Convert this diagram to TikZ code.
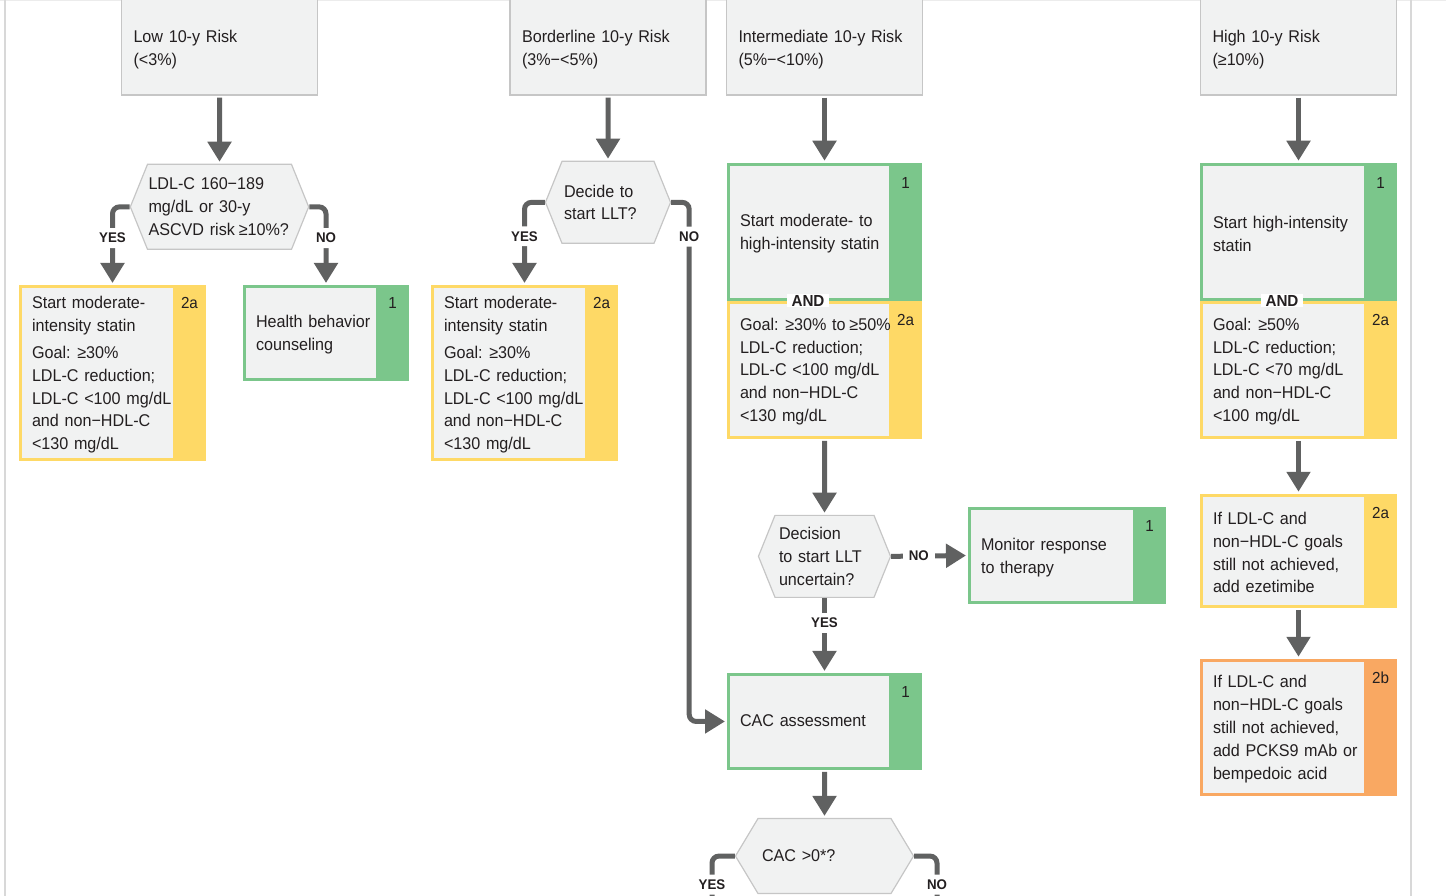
\documentclass[tikz,border=0pt]{standalone}
\usepackage{fontspec}
\setmainfont{Liberation Sans}[FakeStretch=0.95]
\usetikzlibrary{shapes.symbols, arrows.meta, positioning}

\definecolor{cardgray}{RGB}{241,242,242}
\definecolor{edgegray}{RGB}{198,198,198}
\definecolor{flowgray}{RGB}{96,97,97}
\definecolor{recgreen}{RGB}{123,198,139}
\definecolor{recyellow}{RGB}{254,217,102}
\definecolor{recorange}{RGB}{249,168,98}
\definecolor{inktext}{RGB}{35,31,32}
\definecolor{framegray}{RGB}{216,216,216}

\newcommand{\atleast}{\kern-1.8pt≥}

\begin{document}
\begin{tikzpicture}[
  x=1pt, y=-1pt,
  font=\fontsize{17}{22.8}\selectfont,
  text=inktext,
  >={Triangle[width=23pt, length=20pt]},
  riskbox/.style={
    rectangle, draw=edgegray, fill=cardgray, line width=1.5pt,
    minimum width=196pt, minimum height=98pt, text width=172pt,
    inner xsep=12pt, align=left,
    execute at begin node={\rule{0pt}{19pt}}
  },
  decision/.style={
    signal, signal to=west and east, signal pointer angle=136,
    draw=edgegray, fill=cardgray, line width=1.2pt,
    inner xsep=3pt, inner ysep=0pt, align=left
  },
  card/.style n args={3}{
    rectangle, draw=#1, fill=cardgray, line width=3pt,
    minimum width=#2-3pt, minimum height=#3-3pt, text width=#2-26pt,
    inner xsep=11.5pt, inner ysep=0pt, align=left,
    execute at begin node=\strut,
    path picture={\fill[#1] ([xshift=-31.5pt]path picture bounding box.north east)
      rectangle (path picture bounding box.south east);}
  },
  grade/.style={font=\fontsize{16}{16}\selectfont, inner sep=0pt},
  andtag/.style={fill=white, font=\fontsize{16}{16}\selectfont\bfseries,
    inner xsep=5pt, inner ysep=1pt},
  flow/.style={->, line width=5pt, draw=flowgray, shorten <=2pt, shorten >=2pt},
  branch/.style={line width=5pt, draw=flowgray, rounded corners=7pt},
  yesno/.style={fill=white, font=\fontsize{14}{14}\selectfont\bfseries,
    inner xsep=6pt, inner ysep=5pt}
]
\useasboundingbox (0,0) rectangle (1446,896);

% page frame
\draw[framegray!50, line width=1pt] (0,0.5) -- (1446,0.5);
\draw[framegray, line width=2pt] (5,0) -- (5,896);
\draw[framegray, line width=2pt] (1411,0) -- (1411,896);

% risk categories
\node[riskbox] (low) at (219.5,46) {Low 10-y Risk\\(<3\%)};
\node[riskbox] (border) at (608,46) {Borderline 10-y Risk\\(3\%−<5\%)};
\node[riskbox] (inter) at (824.5,46) {Intermediate 10-y Risk\\(5\%−<10\%)};
\node[riskbox] (high) at (1298.5,46) {High 10-y Risk\\(≥10\%)};

% low risk
\node[decision, below=68pt of low, text width=142pt, minimum height=85pt,
  inner xsep=1pt] (ldlq) {LDL-C 160−189\\mg/dL or 30-y\\ASCVD risk \atleast10\%?};
\node[card={recyellow}{187}{176}] (lowstatin) at (112.5,373)
  {Start moderate-\\intensity statin\\[4pt]Goal: \atleast30\%\\LDL-C reduction;\\LDL-C <100 mg/dL\\and non−HDL-C\\<130 mg/dL};
\node[card={recgreen}{166}{96}] (counsel) at (326,333) {Health behavior\\counseling};

% borderline risk
\node[decision, below=65pt of border, text width=88pt, minimum height=82pt,
  inner xsep=2pt] (llt) {Decide to\\start LLT?};
\node[card={recyellow}{187}{176}] (bordstatin) at (524.5,373)
  {Start moderate-\\intensity statin\\[4pt]Goal: \atleast30\%\\LDL-C reduction;\\LDL-C <100 mg/dL\\and non−HDL-C\\<130 mg/dL};

% intermediate risk
\node[card={recgreen}{195}{138}, below=67pt of inter] (intstatin)
  {Start moderate- to\\high-intensity statin};
\node[card={recyellow}{195}{138}, below=0pt of intstatin] (intgoal)
  {Goal: \atleast30\% to \atleast50\%\\LDL-C reduction;\\LDL-C <100 mg/dL\\and non−HDL-C\\<130 mg/dL};
\node[decision, below=76pt of intgoal, text width=91pt, minimum height=82pt,
  inner xsep=4pt] (uncertain) {Decision\\to start LLT\\uncertain?};
\node[card={recgreen}{198}{97}] (monitor) at (1067,555.5) {Monitor response\\to therapy};
\node[card={recgreen}{195}{97}, below=75pt of uncertain] (cac) {CAC assessment};
\node[decision, below=48pt of cac, text width=125pt, minimum height=75pt,
  inner xsep=4pt, signal pointer angle=118] (cacq) {CAC >0*?};
\coordinate (cacyesend) at (712,940);
\coordinate (cacnoend) at (937,940);

% high risk
\node[card={recgreen}{197}{138}, below=67pt of high] (highstatin)
  {Start high-intensity\\statin};
\node[card={recyellow}{197}{138}, below=0pt of highstatin] (highgoal)
  {Goal: \atleast50\%\\LDL-C reduction;\\LDL-C <70 mg/dL\\and non−HDL-C\\<100 mg/dL};
\node[card={recyellow}{197}{114}, below=55pt of highgoal] (ezetimibe)
  {If LDL-C and\\non−HDL-C goals\\still not achieved,\\add ezetimibe};
\node[card={recorange}{197}{137}, below=51pt of ezetimibe] (pcsk)
  {If LDL-C and\\non−HDL-C goals\\still not achieved,\\add PCKS9 mAb or\\bempedoic acid};

% recommendation classes
\node[grade] (lowstatin-g) at ([xshift=-16.5pt, yshift=-18pt]lowstatin.north east) {2a};
\node[grade] (counsel-g) at ([xshift=-16.5pt, yshift=-18pt]counsel.north east) {1};
\node[grade] (bordstatin-g) at ([xshift=-16.5pt, yshift=-18pt]bordstatin.north east) {2a};
\node[grade] (intstatin-g) at ([xshift=-16.5pt, yshift=-20pt]intstatin.north east) {1};
\node[grade] (intgoal-g) at ([xshift=-16.5pt, yshift=-19pt]intgoal.north east) {2a};
\node[grade] (monitor-g) at ([xshift=-16.5pt, yshift=-19pt]monitor.north east) {1};
\node[grade] (cac-g) at ([xshift=-16.5pt, yshift=-19pt]cac.north east) {1};
\node[grade] (highstatin-g) at ([xshift=-16.5pt, yshift=-20pt]highstatin.north east) {1};
\node[grade] (highgoal-g) at ([xshift=-16.5pt, yshift=-19pt]highgoal.north east) {2a};
\node[grade] (ezetimibe-g) at ([xshift=-16.5pt, yshift=-19pt]ezetimibe.north east) {2a};
\node[grade] (pcsk-g) at ([xshift=-16.5pt, yshift=-19pt]pcsk.north east) {2b};

\node[andtag] (intand) at ([xshift=-16.5pt]intstatin.south) {AND};
\node[andtag] (highand) at ([xshift=-16.5pt]highstatin.south) {AND};

% arrows
\draw[flow] (low) -- (ldlq);
\draw[branch, ->, shorten >=2pt] (ldlq.west) -| node[yesno, pos=0.7] (ldlqyes) {YES} (lowstatin.north);
\draw[branch, ->, shorten >=2pt] (ldlq.east) -| node[yesno, pos=0.7] (ldlqno) {NO} (counsel.north);
\draw[flow] (border) -- (llt);
\draw[branch, ->, shorten >=2pt] (llt.west) -| node[yesno, pos=0.705] (lltyes) {YES} (bordstatin.north);
\draw[branch, ->, shorten >=2pt] (llt.east) -- ++(18,0) |- node[yesno, pos=0.033] (lltno) {NO} (cac.west);
\draw[flow] (inter) -- (intstatin);
\draw[flow] (intgoal) -- (uncertain);
\draw[flow, shorten <=0pt] (uncertain.east) -- node[yesno, pos=0.36] (uncertainno) {NO} (monitor.west);
\draw[flow, shorten <=0pt] (uncertain.south) -- node[yesno, pos=0.33] (uncertainyes) {YES} (cac.north);
\draw[flow] (cac) -- (cacq);
\draw[branch] (cacq.west) -| node[yesno, pos=0.67] (cacqyes) {YES} (cacyesend);
\draw[branch] (cacq.east) -| node[yesno, pos=0.67] (cacqno) {NO} (cacnoend);
\draw[flow] (high) -- (highstatin);
\draw[flow] (highgoal) -- (ezetimibe);
\draw[flow] (ezetimibe) -- (pcsk);

\end{tikzpicture}
\end{document}
